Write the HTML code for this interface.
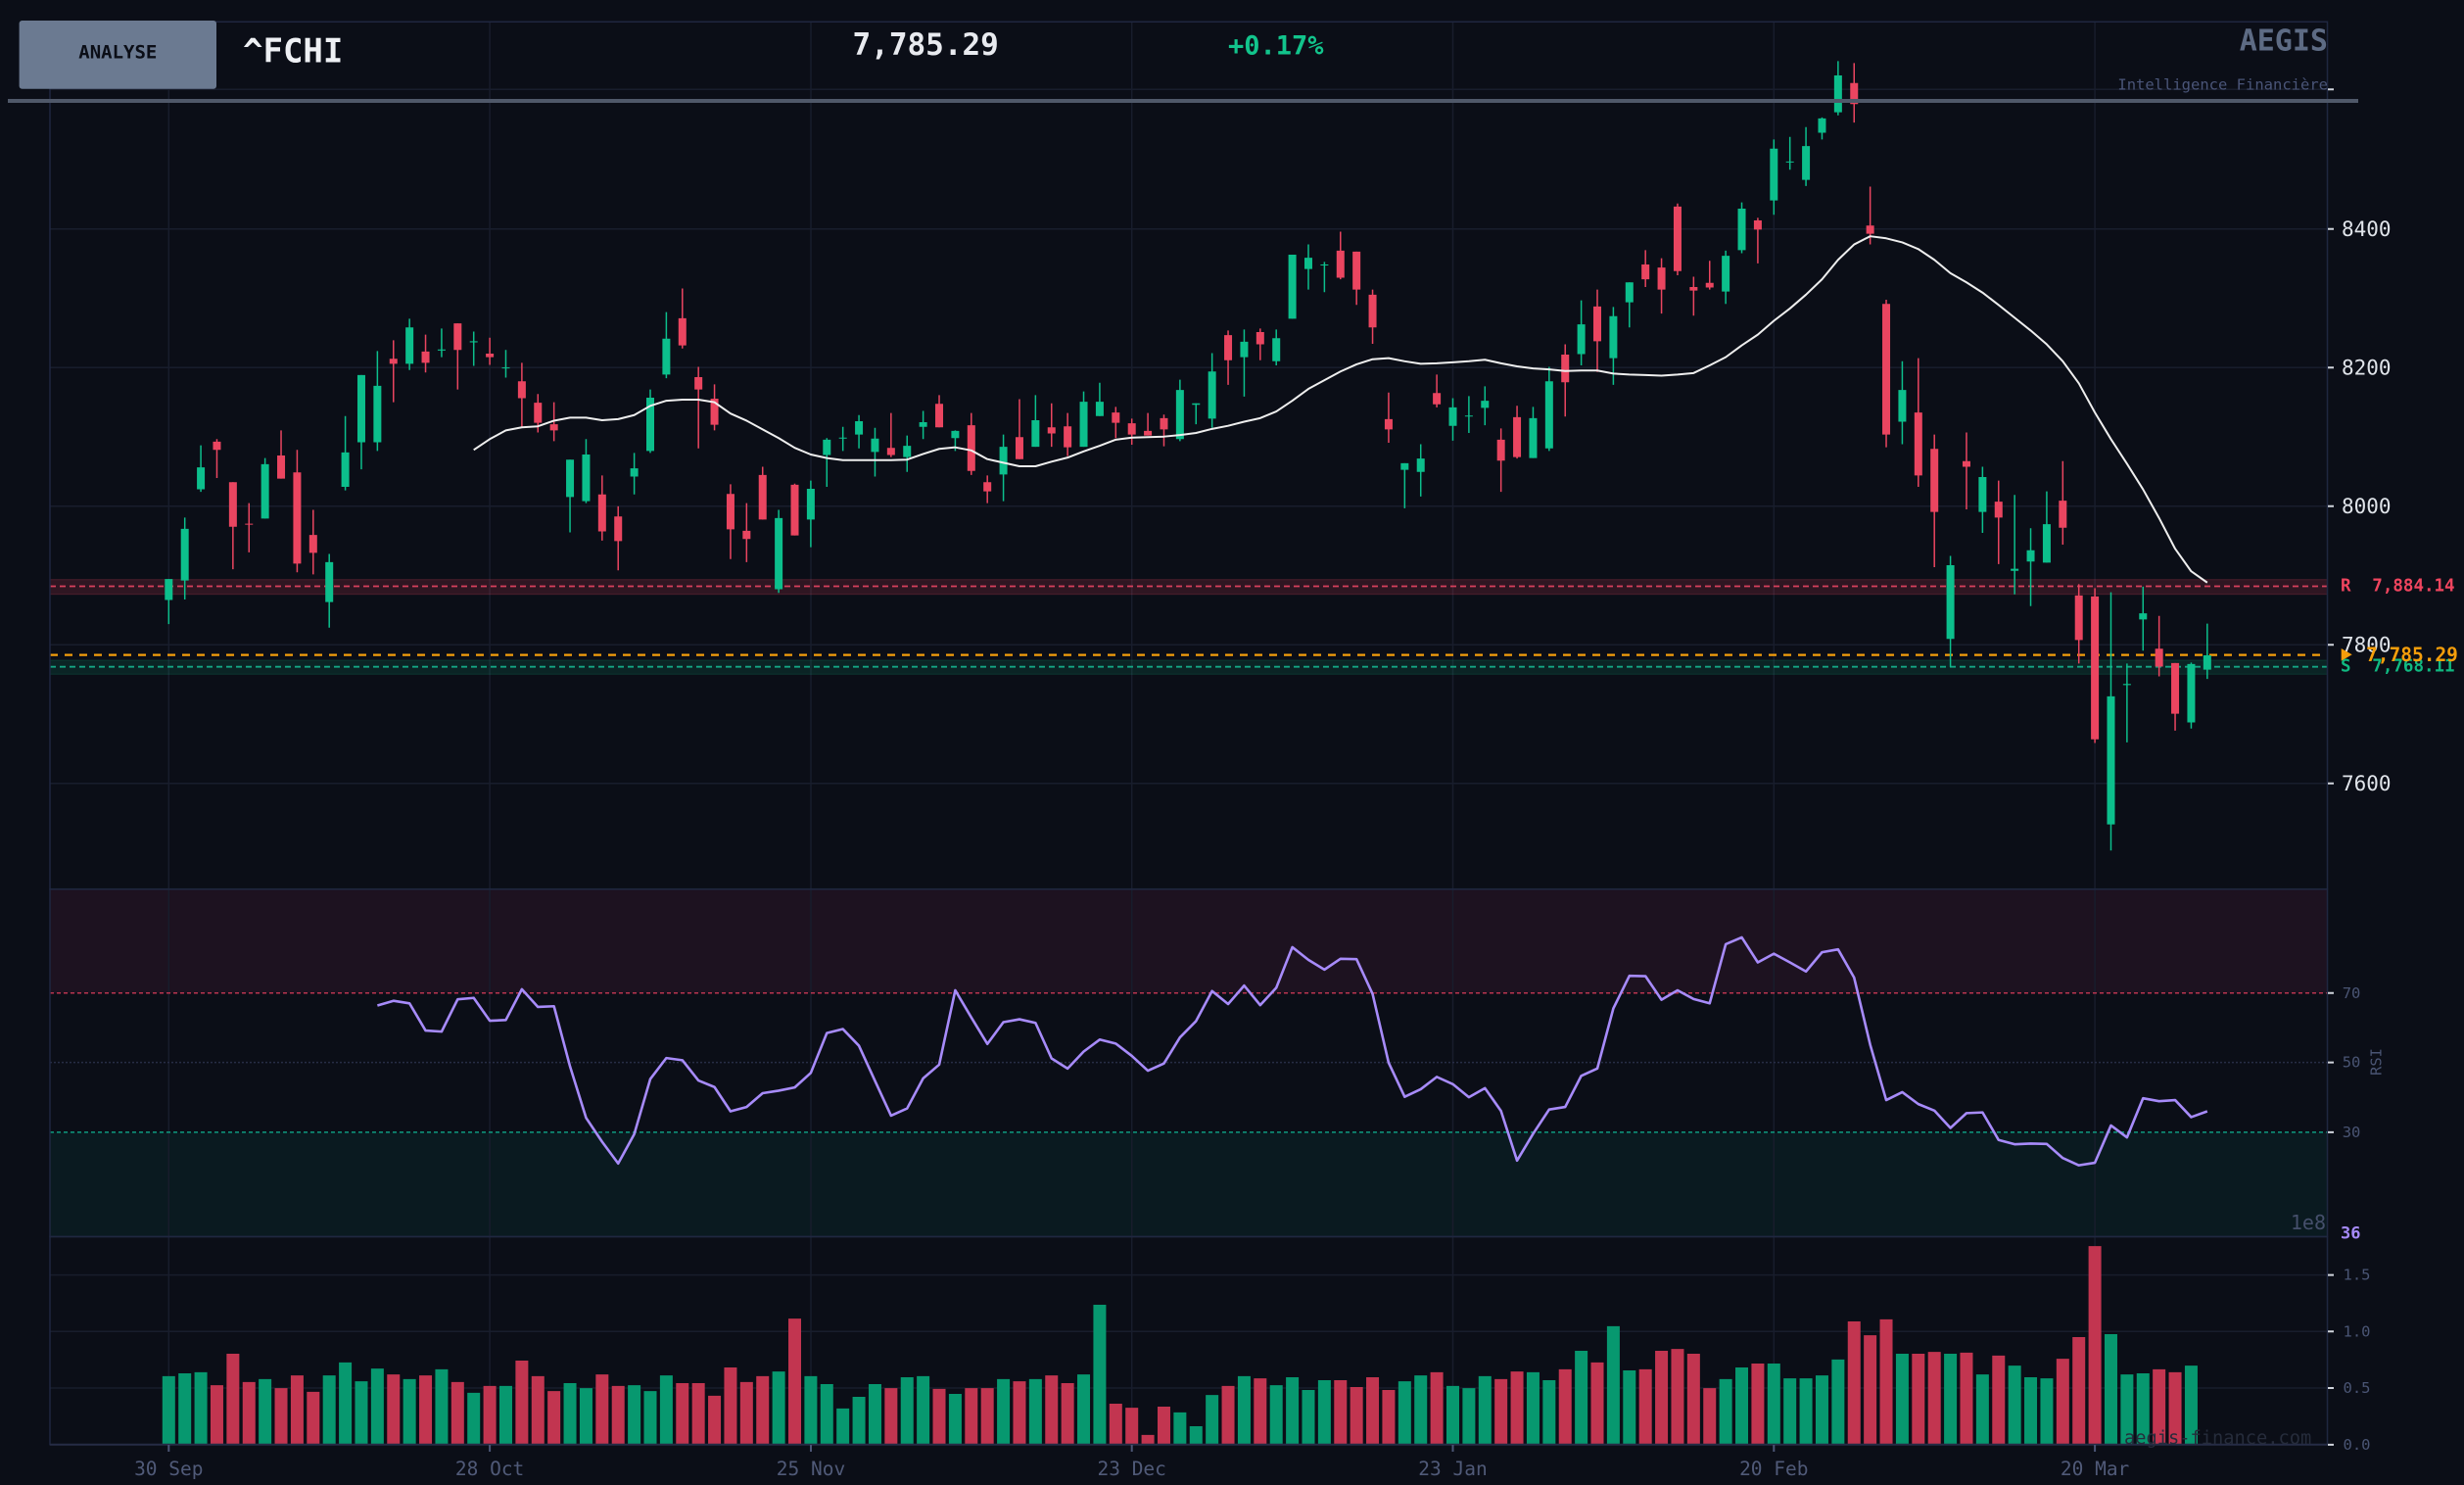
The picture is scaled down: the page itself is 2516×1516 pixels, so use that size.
<!DOCTYPE html>
<html>
<head>
<meta charset="utf-8">
<style>
html,body{margin:0;padding:0;background:#0b0e17;}
body{width:2516px;height:1516px;overflow:hidden;}
svg{display:block;}
text{font-family:"DejaVu Sans Mono","Liberation Mono",monospace;}
</style>
</head>
<body>
<svg xmlns="http://www.w3.org/2000/svg" width="2516" height="1516" viewBox="0 0 2516 1516">
<rect width="2516" height="1516" fill="#0b0e17"/>

<!-- RSI zones -->
<rect x="51" y="907.7" width="2325.5" height="106.1" fill="#1d1220"/>
<rect x="51" y="1155.9" width="2325.5" height="106.6" fill="#0a1a20"/>

<!-- grid -->
<g stroke="#181d2c" stroke-width="1.5" fill="none">
<path d="M172.3 22V1474.7M500.1 22V1474.7M828 22V1474.7M1155.7 22V1474.7M1483.5 22V1474.7M1811.3 22V1474.7M2139.1 22V1474.7"/>
<path d="M51 91.3H2376.5M51 233.8H2376.5M51 375.3H2376.5M51 516.8H2376.5M51 658.3H2376.5M51 799.8H2376.5"/>
<path d="M51 1301.6H2376.5M51 1359.3H2376.5M51 1417H2376.5"/>
</g>
<path d="M51 1084.6H2376.5" stroke="#272d45" stroke-width="1.5" stroke-dasharray="2 2"/>
<path d="M51 1013.8H2376.5" stroke="#b8344f" stroke-width="1.5" stroke-dasharray="4 3"/>
<path d="M51 1155.9H2376.5" stroke="#0f9b80" stroke-width="1.5" stroke-dasharray="4 3"/>

<!-- resistance / support -->
<rect x="51" y="591.7" width="2325.5" height="15" fill="#ef4460" fill-opacity="0.16" stroke="#ef4460" stroke-opacity="0.22" stroke-width="1"/>
<path d="M51 598.5H2376.5" stroke="#d8405c" stroke-width="1.8" stroke-dasharray="6 4"/>
<rect x="51" y="674" width="2325.5" height="14.3" fill="#10b981" fill-opacity="0.13" stroke="#10b981" stroke-opacity="0.18" stroke-width="1"/>
<path d="M51 680.7H2376.5" stroke="#14a583" stroke-width="1.8" stroke-dasharray="6 4"/>
<path d="M51 668.6H2376.5" stroke="#f59e0b" stroke-width="2.2" stroke-dasharray="8 7"/>

<!-- candles -->
<g transform="translate(172.3 55) scale(16.39 0.52301)" fill="none">
<path vector-effect="non-scaling-stroke" stroke="#0cbf8c" stroke-width="1.5" d="M0 1025V1113M1 905V1065M2 764V855M6 789V907M10 976V1120M11 707V852M12 627V811M13 580V775M15 517V617M17 536V592M19 542V609M21 578V632M25 792V934M26 752V877M29 779V860M30 655V779M31 504V633M38 890V1052M40 833V963M41 750V845M42 728V775M43 705V770M44 730V825M46 745V816M47 697V752M49 735V775M52 743V873M54 666V767M57 659V767M58 642V707M63 636V756M64 682V723M65 584V730M67 538V669M69 538V608M70 392V517M71 372V460M72 406V465M77 799V887M78 762V864M80 672V755M81 668V740M82 649V725M85 689V789M86 611V775M88 481V608M90 494V646M91 446V534M97 384V488M98 290V389M100 167V314M101 162V226M102 143V258M103 124V167M104 14V120M108 600V762M111 980V1197M113 806V935M115 861V1055M116 926V1078M117 854V993M121 1051V1555M122 1190V1344M123 1040V1165M126 1188V1317M127 1112V1220"/>
<path vector-effect="non-scaling-stroke" stroke="#0cbf8c" stroke-width="8" d="M0 1025V1066M1 927V1028M2 807V850M6 801V907M10 992V1070M11 778V845M12 627V758M13 648V758M15 534V605M17 577V579M19 561V563M21 612V614M25 792V865M26 782V873M29 809V825M30 671V775M31 556V626M38 906V1045M40 849V909M41 753V783M42 749V751M43 717V743M44 751V777M46 765V787M47 719V728M49 736V750M52 767V821M54 715V767M57 679V767M58 679V707M63 656V752M64 682V685M65 620V712M67 562V592M69 555V600M70 392V517M71 398V420M72 411V413M77 799V812M78 790V816M80 690V726M81 706V708M82 677V691M85 711V789M86 639V770M88 528V586M90 512V594M91 446V485M97 394V464M98 302V383M100 185V286M101 210V212M102 180V246M103 126V154M104 42V114M108 656V718M111 998V1142M113 826V894M115 1005V1009M116 969V991M117 918V993M121 1254V1504M122 1230V1232M123 1092V1104M126 1191V1305M127 1174V1202"/>
<path vector-effect="non-scaling-stroke" stroke="#ea4560" stroke-width="1.5" d="M3 752V828M4 836V1006M5 877V973M7 735V829M8 773V1012M9 890V1016M14 559V680M16 548V622M18 526V655M20 554V607M22 603V728M23 664V739M24 680V756M27 823V950M28 883V1008M32 458V575M33 611V770M34 645V735M35 840V986M36 877V992M37 806V909M39 839V940M45 701V787M48 666V729M50 701V822M51 823V877M53 674V791M55 682V767M56 701V785M59 689V750M60 712V763M61 701V745M62 704V766M66 540V646M68 536V598M73 347V440M74 386V490M75 460V566M76 661V759M79 626V690M83 731V855M84 687V790M87 567V708M89 460V621M92 383V455M93 399V507M94 292V432M95 435V511M96 404V460M99 320V409M105 18V134M106 259V372M107 480V768M109 594V845M110 743V1002M112 739V889M114 833V996M118 795V958M119 1035V1190M120 1043V1345M124 1097V1215M125 1189V1321"/>
<path vector-effect="non-scaling-stroke" stroke="#ea4560" stroke-width="8" d="M3 757V773M4 836V923M5 917V919M7 784V829M8 817V995M9 939V974M14 595V605M16 581V603M18 526V578M20 585V592M22 639V672M23 681V720M24 723V735M27 860V932M28 903V951M32 516V569M33 631V655M34 673V724M35 859V928M36 931V947M37 822V909M39 841V940M45 769V783M48 683V729M50 725V814M51 836V854M53 748V791M55 729V741M56 727V768M59 700V720M60 721V743M61 736V745M62 711V733M66 549V598M68 543V567M73 384V437M74 386V460M75 470V534M76 713V733M79 662V684M83 753V794M84 709V787M87 587V641M89 493V561M92 411V440M93 417V460M94 298V424M95 455V462M96 447V456M99 325V343M105 57V98M106 335V351M107 488V743M109 700V823M110 771V894M112 795V806M114 874V905M118 872V925M119 1057V1144M120 1059V1338M124 1161V1196M125 1189V1288"/>
<polyline vector-effect="non-scaling-stroke" stroke="#eeeeee" stroke-width="2" stroke-linejoin="round" points="19,773 20,752 21,735 22,729 23,727 24,716 25,710 26,710 27,715 28,713 29,705 30,687 31,677 32,675 33,675 34,680 35,702 36,716 37,733 38,750 39,769 40,782 41,789 42,793 43,793 44,793 45,793 46,792 47,781 48,771 49,768 50,774 51,791 52,798 53,805 54,805 55,796 56,788 57,776 58,765 59,753 60,749 61,748 62,747 63,744 64,740 65,732 66,726 67,718 68,711 69,698 70,677 71,654 72,637 73,620 74,606 75,596 76,594 77,600 78,605 79,604 80,602 81,600 82,597 83,604 84,610 85,614 86,616 87,619 88,618 89,618 90,624 91,626 92,627 93,628 94,626 95,623 96,608 97,592 98,569 99,548 100,521 101,497 102,470 103,440 104,402 105,372 106,356 107,360 108,368 109,381 110,402 111,428 112,446 113,466 114,490 115,515 116,540 117,567 118,600 119,643 120,700 121,752 122,800 123,850 124,906 125,966 126,1010 127,1032"/>
</g>

<!-- RSI + volume -->
<g transform="translate(172.3 900) scale(16.39 0.3699)" fill="none">
<path vector-effect="non-scaling-stroke" stroke="#07986f" stroke-width="13" d="M0 1365V1553.5M1 1357V1553.5M2 1354V1553.5M6 1373V1553.5M10 1363V1553.5M11 1327V1553.5M12 1379V1553.5M13 1344V1553.5M15 1373V1553.5M17 1346V1553.5M19 1411V1553.5M21 1392V1553.5M25 1384V1553.5M26 1398V1553.5M29 1390V1553.5M30 1406V1553.5M31 1363V1553.5M38 1352V1553.5M40 1365V1553.5M41 1387V1553.5M42 1454V1553.5M43 1422V1553.5M44 1387V1553.5M46 1368V1553.5M47 1365V1553.5M49 1414V1553.5M52 1373V1553.5M54 1373V1553.5M57 1360V1553.5M58 1168V1553.5M63 1465V1553.5M64 1503V1553.5M65 1417V1553.5M67 1365V1553.5M69 1390V1553.5M70 1368V1553.5M71 1403V1553.5M72 1376V1553.5M77 1379V1553.5M78 1363V1553.5M80 1392V1553.5M81 1398V1553.5M82 1365V1553.5M85 1354V1553.5M86 1376V1553.5M88 1295V1553.5M90 1227V1553.5M91 1349V1553.5M97 1373V1553.5M98 1341V1553.5M100 1330V1553.5M101 1371V1553.5M102 1371V1553.5M103 1363V1553.5M104 1319V1553.5M108 1303V1553.5M111 1303V1553.5M113 1360V1553.5M115 1336V1553.5M116 1368V1553.5M117 1371V1553.5M121 1249V1553.5M122 1360V1553.5M123 1357V1553.5M126 1336V1553.5"/>
<path vector-effect="non-scaling-stroke" stroke="#c23550" stroke-width="13" d="M3 1390V1553.5M4 1303V1553.5M5 1381V1553.5M7 1398V1553.5M8 1363V1553.5M9 1408V1553.5M14 1360V1553.5M16 1363V1553.5M18 1381V1553.5M20 1392V1553.5M22 1322V1553.5M23 1365V1553.5M24 1406V1553.5M27 1360V1553.5M28 1392V1553.5M32 1384V1553.5M33 1384V1553.5M34 1419V1553.5M35 1341V1553.5M36 1381V1553.5M37 1365V1553.5M39 1206V1553.5M45 1398V1553.5M48 1400V1553.5M50 1398V1553.5M51 1398V1553.5M53 1379V1553.5M55 1363V1553.5M56 1384V1553.5M59 1441V1553.5M60 1452V1553.5M61 1527V1553.5M62 1449V1553.5M66 1392V1553.5M68 1371V1553.5M73 1376V1553.5M74 1395V1553.5M75 1368V1553.5M76 1403V1553.5M79 1354V1553.5M83 1373V1553.5M84 1352V1553.5M87 1346V1553.5M89 1327V1553.5M92 1346V1553.5M93 1295V1553.5M94 1290V1553.5M95 1303V1553.5M96 1398V1553.5M99 1330V1553.5M105 1214V1553.5M106 1252V1553.5M107 1208V1553.5M109 1303V1553.5M110 1298V1553.5M112 1300V1553.5M114 1308V1553.5M118 1317V1553.5M119 1257V1553.5M120 1006V1553.5M124 1346V1553.5M125 1354V1553.5"/>
<polyline vector-effect="non-scaling-stroke" stroke="#a78bfa" stroke-width="2.6" stroke-linejoin="round" points="13,342 14,329 15,336 16,411 17,414 18,325 19,321 20,384 21,382 22,297 23,346 24,344 25,510 26,652 27,718 28,778 29,697 30,545 31,487 32,493 33,549 34,567 35,634 36,622 37,584 38,577 39,568 40,528 41,418 42,407 43,453 44,550 45,646 46,626 47,543 48,505 49,300 50,375 51,448 52,388 53,380 54,390 55,488 56,516 57,469 58,436 59,447 60,481 61,522 62,502 63,430 64,385 65,302 66,338 67,287 68,341 69,293 70,181 71,216 72,243 73,213 74,214 75,310 76,500 77,594 78,573 79,539 80,559 81,595 82,570 83,633 84,770 85,696 86,629 87,622 88,536 89,516 90,350 91,260 92,261 93,326 94,300 95,324 96,336 97,173 98,154 99,223 100,199 101,223 102,248 103,195 104,187 105,265 106,450 107,603 108,581 109,614 110,632 111,680 112,639 113,637 114,713 115,725 116,723 117,724 118,763 119,783 120,776 121,673 122,706 123,598 124,606 125,603 126,650 127,634"/>
</g>

<!-- spines -->
<g fill="none" stroke="#1f2740" stroke-width="1.5">
<rect x="51" y="22.3" width="2325.5" height="885.4"/>
<rect x="51" y="907.7" width="2325.5" height="354.8"/>
<rect x="51" y="1262.5" width="2325.5" height="212.2"/>
</g>
<path d="M51 1474.7H2376.5" stroke="#262c45" stroke-width="2"/>

<!-- right ticks -->
<g stroke="#d0d4dc" stroke-width="2">
<path d="M2377 91.3h6M2377 233.8h6M2377 375.3h6M2377 516.8h6M2377 658.3h6M2377 799.8h6"/>
<path d="M2377 1013.8h6M2377 1084.6h6M2377 1155.9h6"/>
<path d="M2377 1301.6h6M2377 1359.3h6M2377 1417h6M2377 1474.9h6"/>
</g>
<g font-size="21" fill="#e0e4ea" dominant-baseline="central">
<text x="2391" y="233.8">8400</text>
<text x="2391" y="375.3">8200</text>
<text x="2391" y="516.8">8000</text>
<text x="2391" y="658.3">7800</text>
<text x="2391" y="799.8">7600</text>
</g>
<g font-size="15.5" fill="#4a5574" dominant-baseline="central">
<text x="2391.7" y="1013.8">70</text>
<text x="2391.7" y="1084.6">50</text>
<text x="2391.7" y="1155.9">30</text>
<text x="2392.5" y="1301.6">1.5</text>
<text x="2392.5" y="1359.3">1.0</text>
<text x="2392.5" y="1417">0.5</text>
<text x="2392.5" y="1474.9">0.0</text>
</g>
<text x="2426.7" y="1084" font-size="15.5" fill="#4a5574" text-anchor="middle" dominant-baseline="central" transform="rotate(-90 2426.7 1084)">RSI</text>
<text x="2375" y="1248" font-size="20" fill="#454f6b" text-anchor="end" dominant-baseline="central">1e8</text>
<text x="2390" y="1259.6" font-size="17" font-weight="bold" fill="#a78bfa" dominant-baseline="central">36</text>

<!-- level labels -->
<g font-size="17.5" font-weight="bold" dominant-baseline="central">
<text x="2390" y="598.3" fill="#f0455f">R</text>
<text x="2422.3" y="598.3" fill="#f0455f">7,884.14</text>
<text x="2390" y="680.3" fill="#10b981">S</text>
<text x="2422.3" y="680.3" fill="#10b981">7,768.11</text>
</g>
<polygon points="2390.7,662 2401.7,668.3 2390.7,674.6" fill="#f59e0b"/>
<text x="2416" y="668.3" font-size="19.5" font-weight="bold" fill="#f59e0b" dominant-baseline="central">7,785.29</text>

<!-- date axis -->
<g stroke="#4b5575" stroke-width="2">
<path d="M172.3 1475v7M500.1 1475v7M828 1475v7M1155.7 1475v7M1483.5 1475v7M1811.3 1475v7M2139.1 1475v7"/>
</g>
<g font-size="19.5" fill="#505a78" text-anchor="middle">
<text x="172.3" y="1506">30 Sep</text>
<text x="500.1" y="1506">28 Oct</text>
<text x="828" y="1506">25 Nov</text>
<text x="1155.7" y="1506">23 Dec</text>
<text x="1483.5" y="1506">23 Jan</text>
<text x="1811.3" y="1506">20 Feb</text>
<text x="2139.1" y="1506">20 Mar</text>
</g>
<text x="2169" y="1474" font-size="18.7" fill="#262c3b">aegis-finance.com</text>

<!-- header -->
<rect x="19.6" y="21" width="201.4" height="69.7" rx="3" fill="#6b7a91"/>
<text x="120.3" y="53.5" font-size="19" font-weight="bold" fill="#0b0e17" text-anchor="middle" dominant-baseline="central">ANALYSE</text>
<text x="248" y="52.5" font-size="34" font-weight="bold" fill="#eef0f4" dominant-baseline="central">^FCHI</text>
<text x="870.5" y="46" font-size="31" font-weight="bold" fill="#e8eaef" dominant-baseline="central">7,785.29</text>
<text x="1254" y="47" font-size="27" font-weight="bold" fill="#12c48c" dominant-baseline="central">+0.17%</text>
<text x="2377" y="42" font-size="30" font-weight="bold" fill="#5d6b84" text-anchor="end" dominant-baseline="central">AEGIS</text>
<text x="2377" y="86.5" font-size="15.5" fill="#4a5578" text-anchor="end" dominant-baseline="central">Intelligence Financière</text>
<rect x="8" y="101" width="2400" height="4" fill="#4f5869"/>
</svg>
</body>
</html>
